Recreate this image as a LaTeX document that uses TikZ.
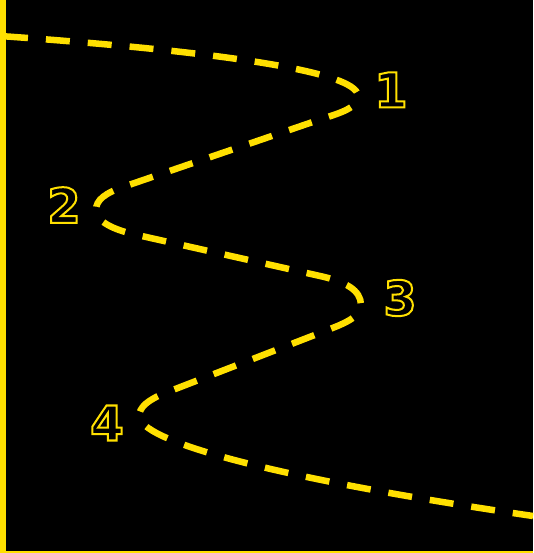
\documentclass[tikz,border=0pt]{standalone}
\usepackage{fontspec}
\setmainfont{DejaVu Sans}
\definecolor{zyellow}{HTML}{FFE000}
\newcommand\outlinetext[1]{\special{pdf:literal direct 1 Tr 2 w}#1\special{pdf:literal direct 0 Tr}}
\tikzset{
  numlabel/.style={text=zyellow, font=\fontsize{48}{48}\selectfont\bfseries, inner sep=0pt, anchor=center},
  zigzag/.style={draw=zyellow, line width=6.5pt, dash pattern=on 24pt off 18pt, dash phase=38pt, line cap=butt}
}
\begin{document}
\begin{tikzpicture}[x=1pt,y=-1pt]
\useasboundingbox (0,0) rectangle (533,553);
\fill[black] (0,0) rectangle (533,553);
% curve
\coordinate (s) at (0,36);
\coordinate (t1) at (358,96);
\coordinate (t2) at (96,210);
\coordinate (t3) at (361,305);
\coordinate (t4) at (139,417);
\coordinate (e) at (533,516);
\draw[zigzag] (s) .. controls (200,50) and (358,70) .. (t1)
  .. controls (358,108) and (340,113) .. (320,119.5)
  -- (125,186.3) .. controls (105,193) and (96,200) .. (t2)
  .. controls (96,222) and (115,230) .. (135,234.5)
  -- (320,276) .. controls (345,281.5) and (361,290) .. (t3)
  .. controls (361,318) and (340,325) .. (325,331)
  -- (165,393) .. controls (148,400) and (139,407) .. (t4)
  .. controls (145,445) and (300,482) .. (e);
% axes
\fill[zyellow] (0,0) rectangle (6,553);
\fill[zyellow] (0,551) rectangle (533,553);
% labels
\node[numlabel] (n1) at (391,90) {\outlinetext{1}};
\node[numlabel] (n2) at (64,205) {\outlinetext{2}};
\node[numlabel] (n3) at (400,298) {\outlinetext{3}};
\node[numlabel] (n4) at (107,423) {\outlinetext{4}};
\end{tikzpicture}
\end{document}
